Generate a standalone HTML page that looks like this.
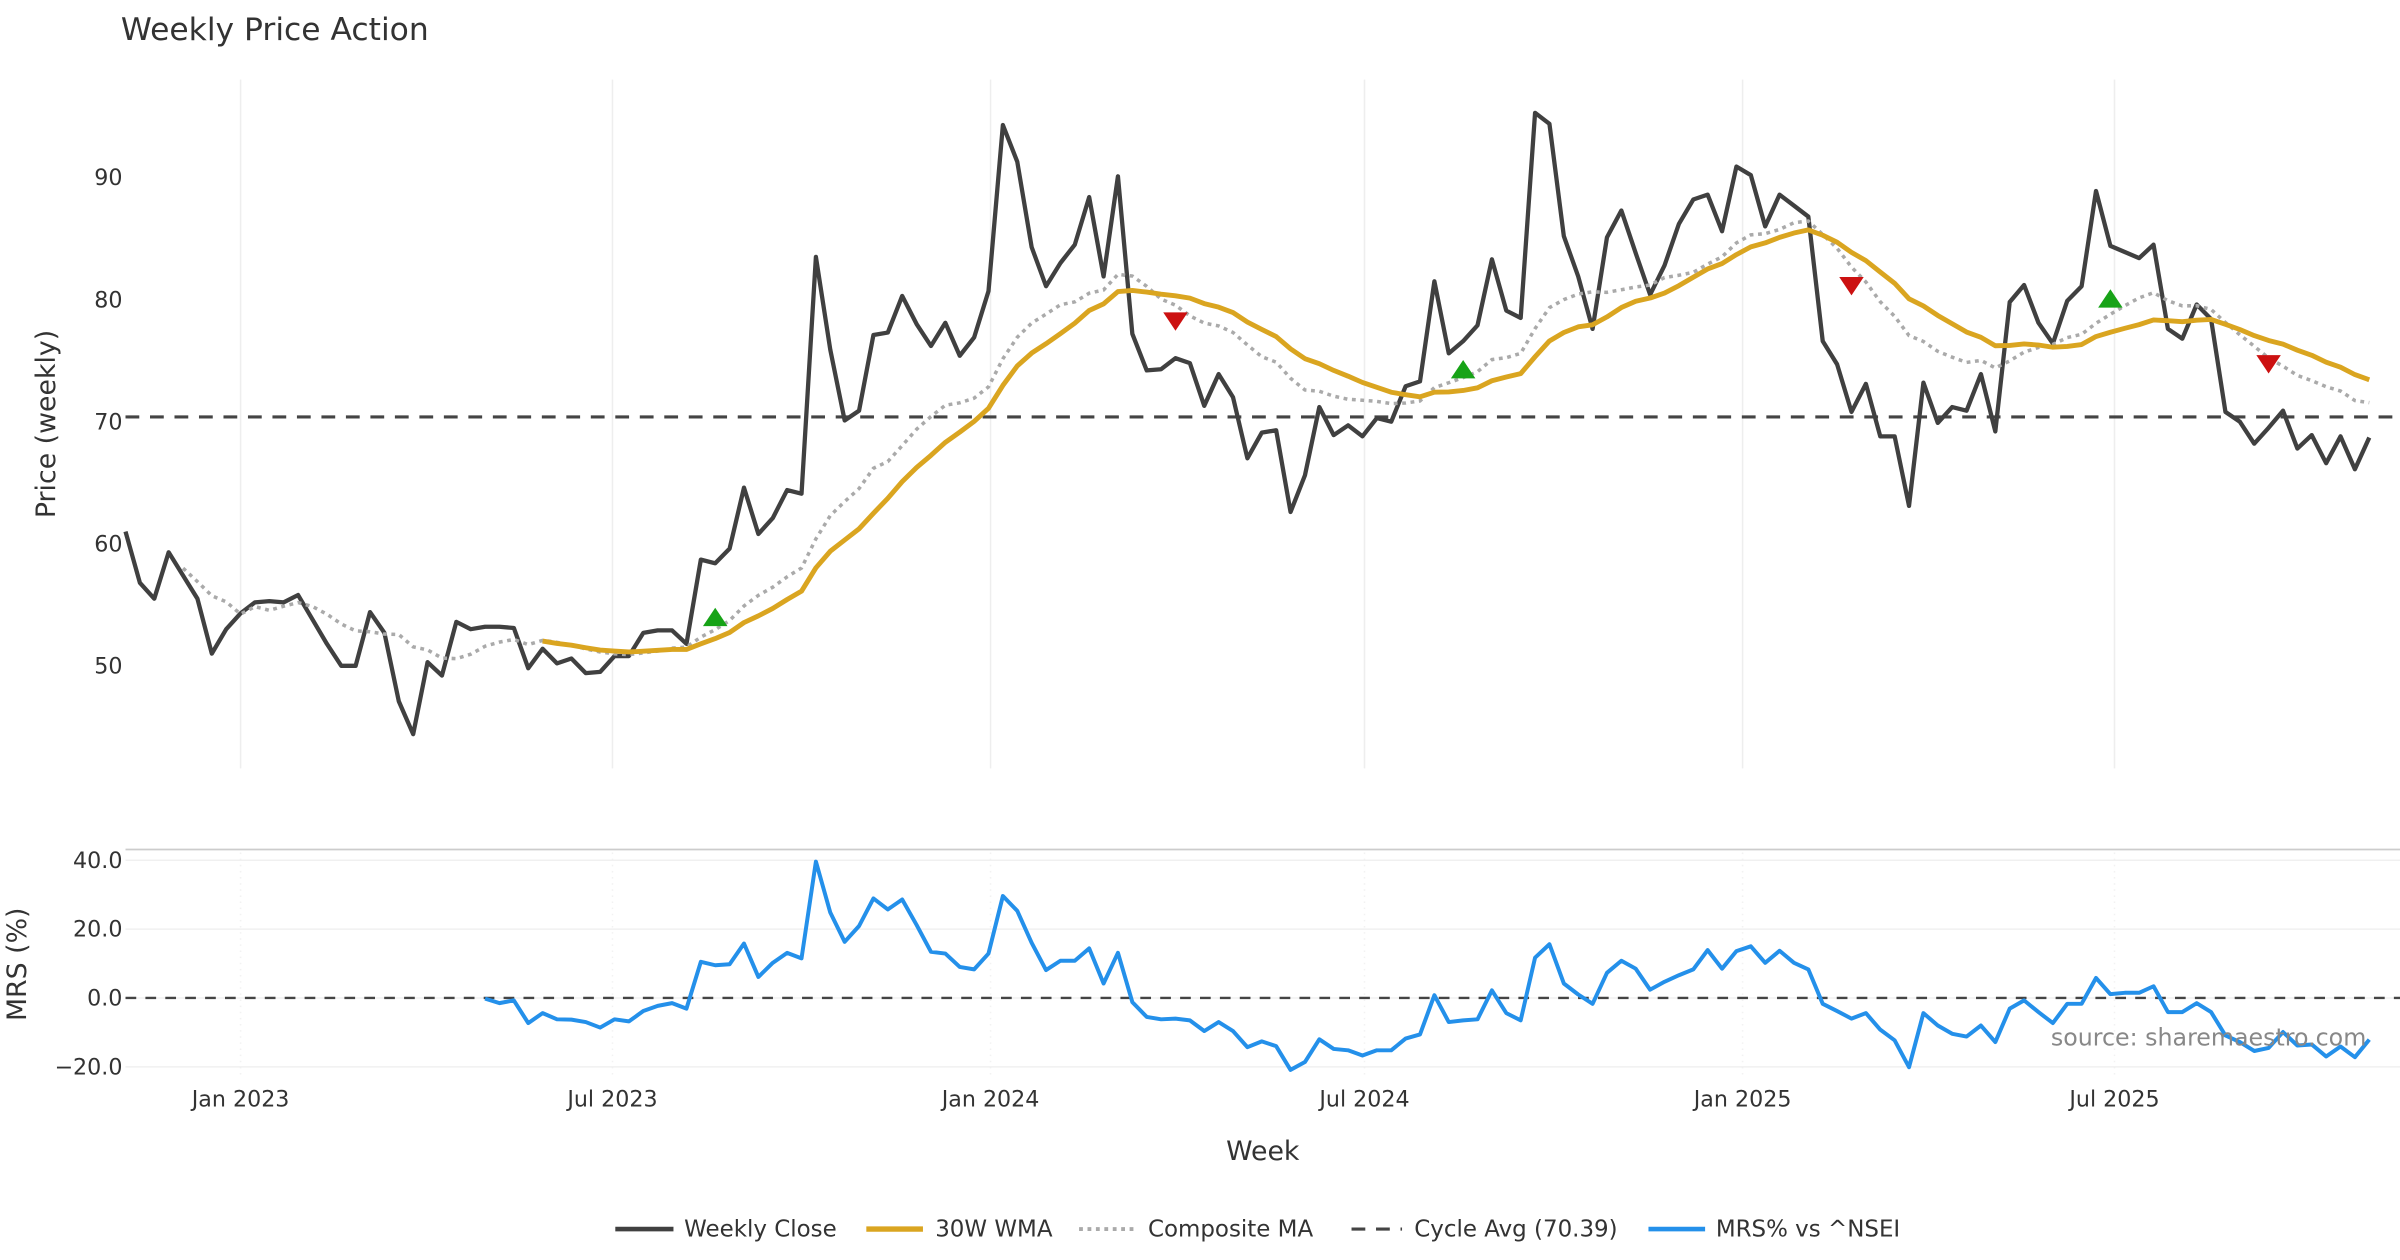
<!DOCTYPE html>
<html><head><meta charset="utf-8"><title>Weekly Price Action</title>
<style>
html,body{margin:0;padding:0;background:#fff;}
svg{display:block;font-family:"DejaVu Sans","Liberation Sans",sans-serif;}
</style></head>
<body>
<svg id="chart" width="2400" height="1260" viewBox="0 0 1568 823.2" xmlns="http://www.w3.org/2000/svg">
<rect width="1568" height="823.2" fill="#fff"/>
<text x="79" y="26" font-size="20.5" fill="#333">Weekly Price Action</text>
<g id="grid"></g>
<g id="price"></g>
<g id="mrs"></g>
<text transform="translate(36,277) rotate(-90)" text-anchor="middle" font-size="17.5" fill="#333">Price (weekly)</text>
<text transform="translate(17,630) rotate(-90)" text-anchor="middle" font-size="17.5" fill="#333">MRS (%)</text>
<text x="825" y="758" text-anchor="middle" font-size="17.5" fill="#333">Week</text>
<text x="1546" y="683" text-anchor="end" font-size="15.5" fill="#888">source: sharemaestro.com</text>
<g font-size="15" fill="#333">
 <g><line x1="402" y1="803" x2="440" y2="803" stroke="#404040" stroke-width="3"/><text x="447" y="808">Weekly Close</text></g>
 <g><line x1="566" y1="803" x2="603" y2="803" stroke="#DAA520" stroke-width="3.5"/><text x="611" y="808">30W WMA</text></g>
 <g><line x1="705" y1="803" x2="742" y2="803" stroke="#aaa" stroke-width="2.5" stroke-dasharray="2.5,3"/><text x="750" y="808">Composite MA</text></g>
 <g><line x1="883" y1="803" x2="916" y2="803" stroke="#444" stroke-width="2" stroke-dasharray="9,7"/><text x="924" y="808">Cycle Avg (70.39)</text></g>
 <g><line x1="1077" y1="803" x2="1114" y2="803" stroke="#2490ea" stroke-width="3"/><text x="1121" y="808">MRS% vs ^NSEI</text></g>
</g>
</svg>
<script>
const closes = [61.0,56.8,55.5,59.3,57.4,55.5,51.0,53.0,54.3,55.2,55.3,55.2,55.8,53.8,51.8,50.0,50.0,54.4,52.7,47.1,44.4,50.3,49.2,53.6,53.0,53.2,53.2,53.1,49.8,51.4,50.2,50.6,49.4,49.5,50.8,50.8,52.7,52.9,52.9,51.8,58.7,58.4,59.6,64.6,60.8,62.1,64.4,64.1,83.5,75.9,70.1,70.9,77.1,77.3,80.3,78.0,76.2,78.1,75.4,76.9,80.7,94.3,91.3,84.3,81.1,83.0,84.5,88.4,81.9,90.1,77.2,74.2,74.3,75.2,74.8,71.3,73.9,72.0,67.0,69.1,69.3,62.6,65.6,71.2,68.9,69.7,68.8,70.3,70.0,72.9,73.3,81.5,75.6,76.6,77.9,83.3,79.1,78.5,95.3,94.4,85.2,81.9,77.6,85.1,87.3,83.8,80.4,82.8,86.2,88.2,88.6,85.6,90.9,90.2,86.0,88.6,87.7,86.8,76.6,74.7,70.8,73.1,68.8,68.8,63.1,73.2,69.9,71.2,70.9,73.9,69.2,79.8,81.2,78.1,76.4,79.9,81.1,88.9,84.4,83.9,83.4,84.5,77.6,76.8,79.6,78.4,70.8,70.0,68.2,69.5,70.9,67.8,68.9,66.6,68.8,66.1,68.7];
const mrsStart = 25;
const mrsValues = [-0.2,-1.5,-0.7,-7.3,-4.4,-6.2,-6.3,-7.0,-8.6,-6.2,-6.8,-3.8,-2.3,-1.5,-3.1,10.5,9.5,9.8,15.8,6.1,10.2,13.1,11.5,39.6,24.8,16.3,20.9,28.9,25.7,28.6,21.2,13.4,12.9,9.0,8.3,12.9,29.6,25.3,16.0,8.1,10.8,10.8,14.4,4.2,13.1,-1.2,-5.5,-6.2,-6.0,-6.5,-9.6,-7.0,-9.6,-14.3,-12.6,-14.0,-20.9,-18.6,-12.0,-14.8,-15.2,-16.7,-15.2,-15.2,-11.8,-10.6,0.8,-7.0,-6.5,-6.2,2.2,-4.4,-6.5,11.7,15.6,4.2,1.0,-1.7,7.3,10.8,8.5,2.4,4.7,6.6,8.3,13.9,8.5,13.6,15.0,10.2,13.7,10.2,8.3,-1.7,-3.8,-6.0,-4.4,-9.2,-12.3,-20.1,-4.4,-8.0,-10.4,-11.2,-8.0,-12.8,-3.1,-0.7,-4.1,-7.3,-1.7,-1.7,5.8,1.1,1.5,1.5,3.4,-4.1,-4.1,-1.5,-4.1,-10.9,-12.8,-15.4,-14.5,-9.9,-13.8,-13.5,-17.0,-14.1,-17.2,-12.1];
const cycleAvg = 70.39;
const signalIdx = [41,73,93,120,138,149];
const signalValue = [54.0,78.2,74.3,81.1,80.1,74.7];
const signalType = ['buy','sell','buy','sell','buy','sell'];
const priceTicks = [50,60,70,80,90];
const mrsTicks = [40,20,0,-20];
const mrsTickLabels = ['40.0','20.0','0.0','\u221220.0'];
const dateTicks = ['2023-01-01','2023-07-01','2024-01-01','2024-07-01','2025-01-01','2025-07-01'];
const dateTickLabels = ['Jan 2023','Jul 2023','Jan 2024','Jul 2024','Jan 2025','Jul 2025'];
const startDate = '2022-11-06';

const NS='http://www.w3.org/2000/svg';
const X0=82, STEP=9.397, DAY=86400000;
const t0=Date.parse(startDate);
function xIdx(i){return X0+i*STEP;}
function xDate(s){return X0+(Date.parse(s)-t0)/DAY/7*STEP;}
function yP(v){return 435-(v-50)*7.975;}
function yM(v){return 652-v*2.25;}
function mk(tag,attrs,parent){const e=document.createElementNS(NS,tag);for(const k in attrs)e.setAttribute(k,attrs[k]);parent.appendChild(e);return e;}
const grid=document.getElementById('grid'), gp=document.getElementById('price'), gm=document.getElementById('mrs');

function wma(arr,n){return arr.map((_,i)=>{if(i<n-1)return null;let s=0,w=0;for(let k=0;k<n;k++){s+=arr[i-k]*(n-k);w+=n-k;}return s/w;});}
function sma(arr,n,i){const a=Math.max(0,i-n+1);let s=0;for(let k=a;k<=i;k++)s+=arr[k];return s/(i-a+1);}
const wma30=wma(closes,30);
const comp=closes.map((_,i)=>{if(i<4)return null;const p=[sma(closes,5,i)];if(i>=9)p.push(sma(closes,10,i));if(i>=19)p.push(sma(closes,20,i));if(i>=29)p.push(sma(closes,30,i));return p.reduce((a,b)=>a+b,0)/p.length;});

dateTicks.forEach((d,k)=>{
  const x=xDate(d);
  const gl=mk('line',{x1:x,x2:x,y1:52,y2:502,stroke:'#eeeeee','stroke-width':1},grid);
  
  
  const gl2=mk('line',{x1:x,x2:x,y1:557,y2:702,stroke:'#f2f2f2','stroke-width':1,'stroke-dasharray':'1,3'},grid);
  
  
  const t=mk('text',{x:x,y:723,'text-anchor':'middle','font-size':14.5,fill:'#333'},grid);
  t.textContent=dateTickLabels[k];
  
  
});
priceTicks.forEach(v=>{
  const t=mk('text',{x:80,y:yP(v)+5,'text-anchor':'end','font-size':14.5,fill:'#333'},grid);
  t.textContent=String(v);
  
  
});
mrsTicks.forEach((v,k)=>{
  const l=mk('line',{x1:82,x2:1568,y1:yM(v),y2:yM(v),stroke:'#f0f0f0','stroke-width':1},grid);
  
  
  const t=mk('text',{x:80,y:yM(v)+5,'text-anchor':'end','font-size':14.5,fill:'#333'},grid);
  t.textContent=mrsTickLabels[k];
  
  
});
const sep=mk('line',{x1:82,x2:1568,y1:555,y2:555,stroke:'#cccccc','stroke-width':1.2},grid);



function path(vals,offset,yf){let d='';vals.forEach((v,i)=>{if(v==null)return;d+=(d?'L':'M')+xIdx(i+offset).toFixed(2)+','+yf(v).toFixed(2);});return d;}

const ca=mk('line',{x1:82,x2:1568,y1:yP(cycleAvg),y2:yP(cycleAvg),stroke:'#444','stroke-width':2,'stroke-dasharray':'9,7'},gp);


const cl=mk('path',{d:path(closes,0,yP),fill:'none',stroke:'#404040','stroke-width':2.8,'stroke-linejoin':'round'},gp);


const cm=mk('path',{d:path(comp,0,yP),fill:'none',stroke:'#aaaaaa','stroke-width':2.3,'stroke-dasharray':'2.5,3'},gp);


const wl=mk('path',{d:path(wma30,0,yP),fill:'none',stroke:'#DAA520','stroke-width':3.2,'stroke-linejoin':'round'},gp);


signalIdx.forEach((i,k)=>{
  const x=xIdx(i), y=yP(signalValue[k]);
  const pts = signalType[k]==='buy' ? `${x-8},${y+6} ${x+8},${y+6} ${x},${y-6}` : `${x-8},${y-6} ${x+8},${y-6} ${x},${y+6}`;
  const p=mk('polygon',{points:pts,fill:signalType[k]==='buy'?'#17a317':'#cc1111'},gp);
  
  
});

const z=mk('line',{x1:82,x2:1568,y1:yM(0),y2:yM(0),stroke:'#444','stroke-width':1.5,'stroke-dasharray':'7,6'},gm);


const ml=mk('path',{d:path(mrsValues,mrsStart,yM),fill:'none',stroke:'#2490ea','stroke-width':2.6,'stroke-linejoin':'round'},gm);


</script>
</body></html>
